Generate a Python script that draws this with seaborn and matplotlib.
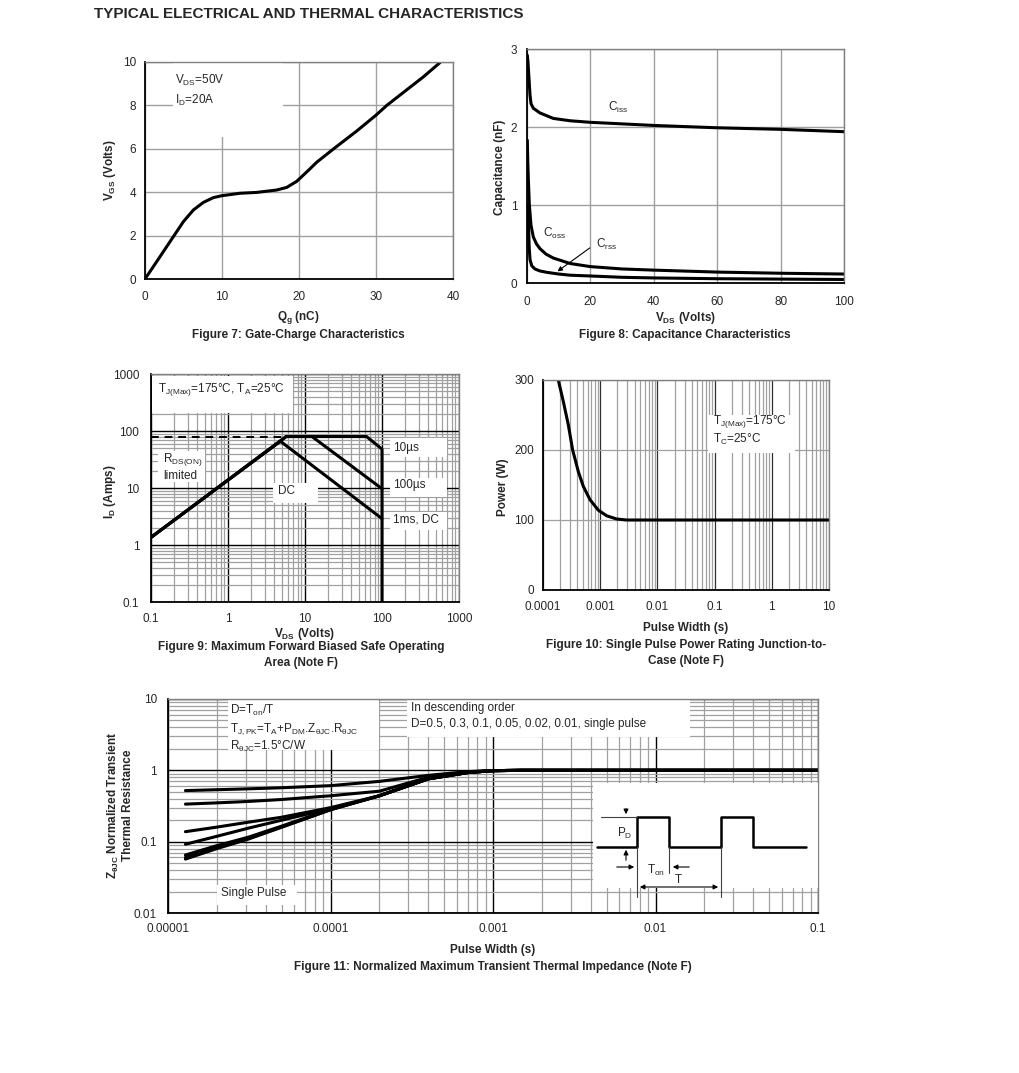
import matplotlib
matplotlib.use("Agg")
import numpy as np
import pandas as pd
import matplotlib.pyplot as plt
import matplotlib.ticker as mticker
from matplotlib.patches import Rectangle
import seaborn as sns

# ---------------- data ----------------
# Figure 7: gate charge
qg_nc = [0, 1.95, 3.68, 4.98, 6.28, 7.58, 8.87, 10, 12.3, 14.5, 17.1, 18.4, 19.7,
         21.2, 22.3, 24.5, 27.5, 30.0, 31.4, 34.0, 36.1, 38.3]
vgs_v = [0, 1.03, 1.95, 2.64, 3.18, 3.53, 3.75, 3.84, 3.95, 3.99, 4.1, 4.22, 4.5,
         5.0, 5.38, 6.0, 6.82, 7.55, 8.0, 8.72, 9.3, 9.97]

# Figure 8: capacitance
ciss_v = [0.1, 0.3, 0.63, 0.95, 1.26, 2, 4.1, 8.3, 13.6, 20, 30, 40, 60, 80, 100]
ciss_nf = [2.92, 2.84, 2.62, 2.41, 2.3, 2.24, 2.18, 2.11, 2.08, 2.06, 2.04, 2.02, 1.99, 1.97, 1.94]
coss_v = [0.1, 0.25, 0.42, 0.74, 1.26, 2, 3, 4.1, 6, 8.3, 13.6, 20, 30, 40, 60, 80, 100]
coss_nf = [1.83, 1.55, 1.34, 1.0, 0.74, 0.59, 0.5, 0.44, 0.37, 0.32, 0.25, 0.21, 0.18,
           0.165, 0.14, 0.125, 0.115]
crss_v = [0.3, 0.5, 0.7, 0.95, 1.5, 2.5, 4, 6.2, 10, 13.6, 20, 30, 40, 60, 80, 100]
crss_nf = [1.0, 0.7, 0.45, 0.3, 0.22, 0.18, 0.155, 0.137, 0.115, 0.1, 0.09, 0.073,
           0.065, 0.055, 0.05, 0.045]

# Figure 9: safe operating area
soa_10us_v = [0.1, 5.7, 63, 100, 100]
soa_10us_a = [1.36, 80, 80, 48, 0.1]
soa_100us_v = [0.1, 5.7, 12.3, 100]
soa_100us_a = [1.36, 80, 80, 9.7]
soa_dc_v = [0.1, 4.8, 100]
soa_dc_a = [1.36, 66, 2.9]
rds_lim_v = [0.1, 5.7]
rds_lim_a = [80, 80]
log_ticks_9 = [0.1, 1, 10, 100, 1000]
log_labels_9 = ["0.1", "1", "10", "100", "1000"]

# Figure 10: single pulse power
pulse_s = [1.85e-4, 2.27e-4, 2.77e-4, 3.3e-4, 4.15e-4, 5.07e-4, 6.64e-4, 9.27e-4,
           1.3e-3, 1.94e-3, 2.9e-3, 10]
power_w = [300, 269, 236, 200, 169, 148, 129, 114, 106, 101.4, 100, 100]
pw_ticks_10 = [1e-4, 1e-3, 1e-2, 1e-1, 1, 10]
pw_labels_10 = ["0.0001", "0.001", "0.01", "0.1", "1", "10"]

# Figure 11: transient thermal impedance
zth_t = [1.28e-5, 2e-5, 3.1e-5, 5e-5, 1e-4, 2e-4, 4e-4, 7e-4, 1e-3, 1.5e-3, 0.1]
zth_d05 = [0.52, 0.535, 0.55, 0.57, 0.61, 0.70, 0.85, 0.96, 0.99, 1.0, 1.0]
zth_d03 = [0.336, 0.35, 0.366, 0.39, 0.44, 0.51, 0.80, 0.95, 0.99, 1.0, 1.0]
zth_d01 = [0.138, 0.16, 0.187, 0.22, 0.30, 0.44, 0.77, 0.94, 0.99, 1.0, 1.0]
zth_d005 = [0.092, 0.119, 0.154, 0.20, 0.29, 0.44, 0.76, 0.93, 0.99, 1.0, 1.0]
zth_d002 = [0.065, 0.088, 0.115, 0.165, 0.285, 0.44, 0.76, 0.93, 0.99, 1.0, 1.0]
zth_d001 = [0.060, 0.083, 0.111, 0.161, 0.28, 0.44, 0.76, 0.93, 0.99, 1.0, 1.0]
zth_single = [0.057, 0.080, 0.108, 0.159, 0.28, 0.44, 0.76, 0.93, 0.99, 1.0, 1.0]
t_ticks_11 = [1e-5, 1e-4, 1e-3, 1e-2, 1e-1]
t_labels_11 = ["0.00001", "0.0001", "0.001", "0.01", "0.1"]
z_ticks_11 = [0.01, 0.1, 1, 10]
z_labels_11 = ["0.01", "0.1", "1", "10"]

# inset pulse sketch (inset units)
pulse_x = [4, 44, 44, 76, 76, 128, 128, 160, 160, 213]
pulse_y = [41, 41, 71, 71, 41, 41, 71, 71, 41, 41]

# ---------------- figure ----------------
sns.set_theme(style="white")
plt.rcParams["font.family"] = ["Liberation Sans", "DejaVu Sans"]
plt.rcParams["mathtext.fontset"] = "custom"
plt.rcParams["mathtext.rm"] = "Liberation Sans"
plt.rcParams["mathtext.default"] = "regular"

W, H = 1020, 1073
fig = plt.figure(figsize=(W / 100, H / 100), dpi=100)
GRID = "#a0a0a0"
FS = 8.5
LW = 2.2


def box(l, t, r, b):
    return [l / W, 1 - b / H, (r - l) / W, (b - t) / H]


def ftext(x, y, s, **kw):
    kw.setdefault("fontsize", FS)
    kw.setdefault("va", "center")
    fig.text(x / W, 1 - y / H, s, **kw)


def blank(ax, l, t, r, b):
    ax.add_patch(Rectangle((l / W, 1 - b / H), (r - l) / W, (b - t) / H,
                           transform=fig.transFigure, facecolor="white",
                           edgecolor="none", zorder=1))


def frame(ax):
    ax.set_axisbelow(True)
    for s in ["left", "bottom"]:
        ax.spines[s].set_color("black")
        ax.spines[s].set_linewidth(1.3)
    for s in ["top", "right"]:
        ax.spines[s].set_color("#808080")
        ax.spines[s].set_linewidth(1.0)
    ax.tick_params(length=0, labelsize=FS)


ftext(94, 14, "TYPICAL ELECTRICAL AND THERMAL CHARACTERISTICS", fontsize=11, weight="bold")

# ---- Figure 7
ax7 = fig.add_axes(box(145, 62, 453, 279))
frame(ax7)
sns.lineplot(x=qg_nc, y=vgs_v, ax=ax7, color="black", lw=LW, estimator=None)
ax7.set_xlim(0, 40)
ax7.set_ylim(0, 10)
ax7.set_xticks([0, 10, 20, 30, 40])
ax7.set_yticks([0, 2, 4, 6, 8, 10])
ax7.grid(True, color=GRID, lw=1.0)
ax7.tick_params(axis="x", pad=8.5)
ax7.tick_params(axis="y", pad=6.5)
blank(ax7, 173, 62, 283, 137)
ftext(175, 80, "V$_{DS}$=50V")
ftext(175, 100, "I$_{D}$=20A")
ftext(110, 170, "V$_{GS}$ (Volts)", weight="bold", rotation=90, ha="center")
ftext(298, 318, "Q$_{g}$ (nC)", weight="bold", ha="center")
ftext(298, 335, "Figure 7: Gate-Charge Characteristics", weight="bold", ha="center")

# ---- Figure 8
ax8 = fig.add_axes(box(527, 49, 844, 283))
frame(ax8)
cap = pd.concat([
    pd.DataFrame({"v": ciss_v, "c": ciss_nf, "k": "Ciss"}),
    pd.DataFrame({"v": coss_v, "c": coss_nf, "k": "Coss"}),
    pd.DataFrame({"v": crss_v, "c": crss_nf, "k": "Crss"}),
])
sns.lineplot(data=cap, x="v", y="c", units="k", estimator=None, ax=ax8,
             color="black", lw=LW)
ax8.set_xlim(0, 100)
ax8.set_ylim(0, 3)
ax8.set_xticks([0, 20, 40, 60, 80, 100])
ax8.set_yticks([0, 1, 2, 3])
ax8.set_xlabel("")
ax8.set_ylabel("")
ax8.grid(True, color=GRID, lw=1.0)
ax8.tick_params(axis="x", pad=9.5)
ax8.tick_params(axis="y", pad=7)
ftext(608, 107, "C$_{iss}$")
ftext(543, 233, "C$_{oss}$")
ftext(596, 244, "C$_{rss}$")
ax8.annotate("", xy=(8.9, 0.128), xytext=(20.5, 0.47),
             arrowprops=dict(arrowstyle="-|>", color="black", lw=0.8, mutation_scale=7))
ftext(500, 167, "Capacitance (nF)", weight="bold", rotation=90, ha="center")
ftext(686, 318, "V$_{DS}$ (Volts)", weight="bold", ha="center")
ftext(685, 335, "Figure 8: Capacitance Characteristics", weight="bold", ha="center")

# ---- Figure 9
ax9 = fig.add_axes(box(151, 374, 459, 602))
frame(ax9)
ax9.set_xscale("log")
ax9.set_yscale("log")
soa = pd.concat([
    pd.DataFrame({"v": soa_10us_v, "a": soa_10us_a, "k": "10us"}),
    pd.DataFrame({"v": soa_100us_v, "a": soa_100us_a, "k": "100us"}),
    pd.DataFrame({"v": soa_dc_v, "a": soa_dc_a, "k": "dc"}),
])
sns.lineplot(data=soa, x="v", y="a", units="k", estimator=None, sort=False,
             ax=ax9, color="black", lw=LW)
sns.lineplot(x=rds_lim_v, y=rds_lim_a, ax=ax9, color="black", lw=1.4,
             estimator=None, linestyle=(0, (4, 3)))
ax9.set_xlim(0.1, 1000)
ax9.set_ylim(0.1, 1000)
ax9.set_xticks(log_ticks_9, log_labels_9)
ax9.set_yticks(log_ticks_9, log_labels_9)
for axis in (ax9.xaxis, ax9.yaxis):
    axis.set_minor_locator(mticker.LogLocator(base=10, subs=np.arange(2, 10)))
    axis.set_minor_formatter(mticker.NullFormatter())
ax9.grid(True, which="minor", color=GRID, lw=0.9)
ax9.grid(True, which="major", color="black", lw=1.0)
ax9.tick_params(which="both", length=0)
ax9.tick_params(axis="x", pad=8)
ax9.tick_params(axis="y", pad=8.5)
ax9.set_xlabel("")
ax9.set_ylabel("")
blank(ax9, 152, 376, 293, 413)
blank(ax9, 158, 451, 205, 482)
blank(ax9, 273, 483, 318, 503)
blank(ax9, 390, 438, 447, 457)
blank(ax9, 390, 478, 447, 497)
blank(ax9, 390, 512, 447, 530)
ftext(158, 390, "T$_{J(Max)}$=175°C, T$_{A}$=25°C")
ftext(163, 460, "R$_{DS(ON)}$")
ftext(163, 476, "limited")
ftext(278, 491, "DC")
ftext(393, 448, "10µs")
ftext(393, 485, "100µs")
ftext(393, 520, "1ms, DC")
ftext(110, 492, "I$_{D}$ (Amps)", weight="bold", rotation=90, ha="center")
ftext(305, 634, "V$_{DS}$ (Volts)", weight="bold", ha="center")
ftext(301, 647, "Figure 9: Maximum Forward Biased Safe Operating", weight="bold", ha="center")
ftext(301, 663, "Area (Note F)", weight="bold", ha="center")

# ---- Figure 10
ax10 = fig.add_axes(box(543, 380, 829, 590))
frame(ax10)
ax10.set_xscale("log")
sns.lineplot(x=pulse_s, y=power_w, ax=ax10, color="black", lw=LW, estimator=None)
ax10.set_xlim(1e-4, 10)
ax10.set_ylim(0, 300)
ax10.set_xticks(pw_ticks_10, pw_labels_10)
ax10.set_yticks([0, 100, 200, 300])
ax10.xaxis.set_minor_locator(mticker.LogLocator(base=10, subs=np.arange(2, 10)))
ax10.xaxis.set_minor_formatter(mticker.NullFormatter())
ax10.grid(True, which="minor", axis="x", color=GRID, lw=0.9)
ax10.grid(True, which="major", axis="x", color="#303030", lw=0.9)
ax10.grid(True, which="major", axis="y", color=GRID, lw=0.9)
ax10.tick_params(which="both", length=0)
ax10.tick_params(axis="x", pad=8)
ax10.tick_params(axis="y", pad=6.5)
blank(ax10, 708, 415, 795, 453)
ftext(713, 422, "T$_{J(Max)}$=175°C")
ftext(713, 439, "T$_{C}$=25°C")
ftext(503, 487, "Power (W)", weight="bold", rotation=90, ha="center")
ftext(686, 628, "Pulse Width (s)", weight="bold", ha="center")
ftext(686, 645, "Figure 10: Single Pulse Power Rating Junction-to-", weight="bold", ha="center")
ftext(686, 661, "Case (Note F)", weight="bold", ha="center")

# ---- Figure 11
ax11 = fig.add_axes(box(168, 699, 818, 913))
frame(ax11)
ax11.set_xscale("log")
ax11.set_yscale("log")
zth = pd.concat([
    pd.DataFrame({"t": zth_t, "z": vals, "d": name})
    for name, vals in [("0.5", zth_d05), ("0.3", zth_d03), ("0.1", zth_d01),
                       ("0.05", zth_d005), ("0.02", zth_d002), ("0.01", zth_d001),
                       ("single", zth_single)]
])
sns.lineplot(data=zth, x="t", y="z", units="d", estimator=None, ax=ax11,
             color="black", lw=LW)
ax11.set_xlim(1e-5, 0.1)
ax11.set_ylim(0.01, 10)
ax11.set_xticks(t_ticks_11, t_labels_11)
ax11.set_yticks(z_ticks_11, z_labels_11)
for axis in (ax11.xaxis, ax11.yaxis):
    axis.set_minor_locator(mticker.LogLocator(base=10, subs=np.arange(2, 10)))
    axis.set_minor_formatter(mticker.NullFormatter())
ax11.grid(True, which="minor", color=GRID, lw=0.9)
ax11.grid(True, which="major", color="black", lw=1.0)
ax11.tick_params(which="both", length=0)
ax11.tick_params(axis="x", pad=7)
ax11.tick_params(axis="y", pad=8)
ax11.set_xlabel("")
ax11.set_ylabel("")
blank(ax11, 228, 700, 379, 750)
blank(ax11, 407, 700, 690, 737)
blank(ax11, 217, 885, 297, 905)
ftext(230, 710, "D=T$_{on}$/T")
ftext(230, 729, "T$_{J,PK}$=T$_{A}$+P$_{DM}$.Z$_{θJC}$.R$_{θJC}$")
ftext(230, 746, "R$_{θJC}$=1.5°C/W")
ftext(411, 708, "In descending order")
ftext(411, 724, "D=0.5, 0.3, 0.1, 0.05, 0.02, 0.01, single pulse")
ftext(221, 893, "Single Pulse")

ins = ax11.inset_axes([(593 - 168) / 650, (913 - 888) / 214, 225 / 650, 105 / 214])
ins.set_facecolor("white")
ins.set_xticks([])
ins.set_yticks([])
for s in ins.spines.values():
    s.set_visible(False)
ins.set_xlim(0, 225)
ins.set_ylim(0, 105)
sns.lineplot(x=pulse_x, y=pulse_y, ax=ins, color="black", lw=1.8,
             sort=False, estimator=None)
thin = dict(color="#404040", lw=0.8, clip_on=False)
ins.plot([8, 44], [71, 71], **thin)
ins.plot([44, 44], [41, -9], **thin)
ins.plot([76, 76], [41, 15], **thin)
ins.plot([128, 128], [41, -9], **thin)
arr = dict(arrowstyle="-|>", color="black", lw=0.8, mutation_scale=7)
ins.annotate("", xy=(33, 71), xytext=(33, 82), arrowprops=arr, annotation_clip=False)
ins.annotate("", xy=(33, 41), xytext=(33, 25), arrowprops=arr, annotation_clip=False)
ins.annotate("", xy=(44, 21), xytext=(21, 21), arrowprops=arr, annotation_clip=False)
ins.annotate("", xy=(77, 21), xytext=(99, 21), arrowprops=arr, annotation_clip=False)
ins.annotate("", xy=(128, 1), xytext=(44, 1),
             arrowprops=dict(arrowstyle="<|-|>", color="black", lw=0.8, mutation_scale=7),
             annotation_clip=False)
ins.text(24, 55, "P$_{D}$", fontsize=FS, va="center")
ins.text(54, 18, "T$_{on}$", fontsize=FS, va="center")
ins.text(82, 8, "T", fontsize=FS, va="center")

ftext(120, 805, "Z$_{θJC}$ Normalized Transient\nThermal Resistance", weight="bold",
      rotation=90, ha="center", multialignment="center")
ftext(493, 950, "Pulse Width (s)", weight="bold", ha="center")
ftext(493, 967, "Figure 11: Normalized Maximum Transient Thermal Impedance (Note F)",
      weight="bold", ha="center")

fig.savefig("out.png", dpi=100)
